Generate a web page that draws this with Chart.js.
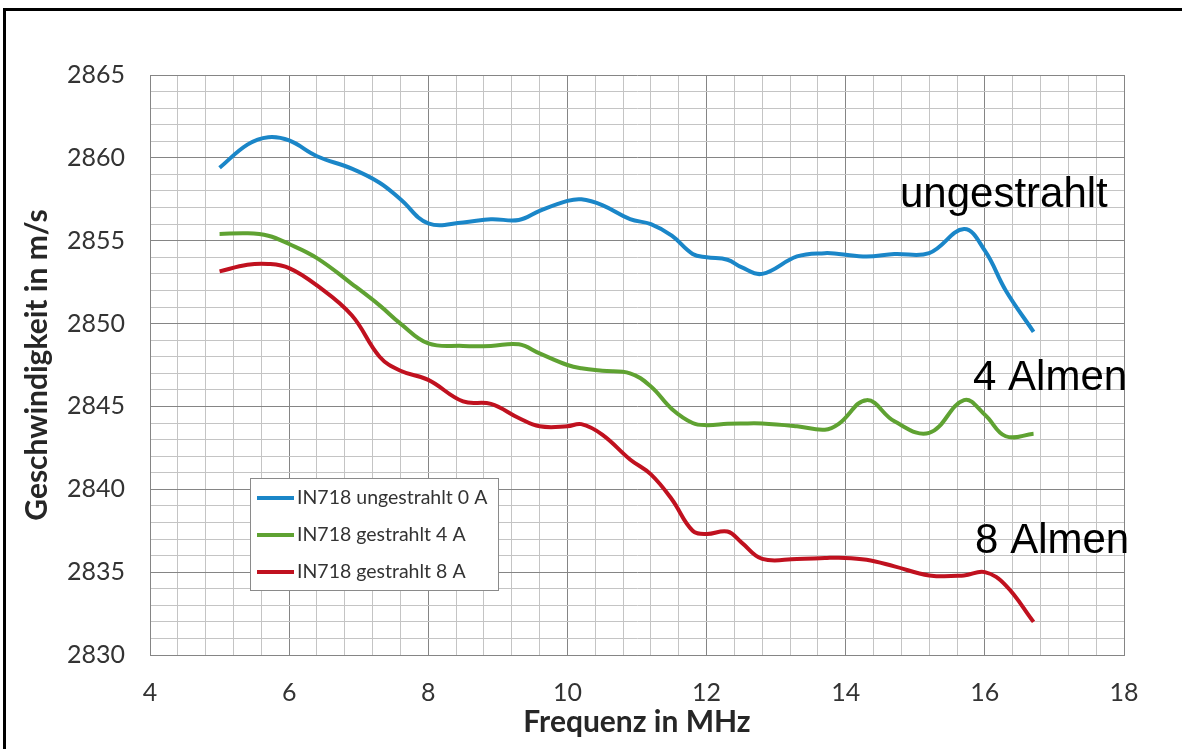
<!DOCTYPE html>
<html lang="de">
<head>
    <meta charset="UTF-8">
    <title>Geschwindigkeit über Frequenz</title>
    <script src="https://cdn.jsdelivr.net/npm/chart.js"></script>
    <style>
        html, body {
            margin: 0;
            padding: 0;
            background: #ffffff;
            overflow: hidden;
        }
        #wrap {
            position: relative;
            width: 1182px;
            height: 749px;
        }
        #frame {
            position: absolute;
            left: 3px;
            top: 8px;
            width: 1300px;
            height: 900px;
            border-top: 3px solid #000;
            border-left: 3px solid #000;
            pointer-events: none;
        }
    </style>
</head>
<body>
<div id="wrap">
    <canvas id="chart" width="1182" height="749"></canvas>
    <div id="frame"></div>
</div>
<script>
// Frequenz in MHz
var freq = [5.0, 5.4, 5.7, 6.0, 6.4, 6.9, 7.3, 7.6, 8.0, 8.5, 8.9, 9.3, 9.6, 10.0, 10.2, 10.5,
            10.9, 11.2, 11.5, 11.8, 12.0, 12.3, 12.5, 12.8, 13.3, 13.7, 13.9, 14.3, 14.7, 15.2,
            15.7, 16.0, 16.3, 16.7];

// Geschwindigkeit in m/s
var ungestrahlt = [2859.4, 2860.8, 2861.25, 2861.05, 2860.1, 2859.35, 2858.5, 2857.5, 2856.05, 2856.1,
                   2856.3, 2856.25, 2856.8, 2857.4, 2857.5, 2857.15, 2856.3, 2856.0, 2855.3, 2854.2,
                   2854.0, 2853.85, 2853.4, 2853.0, 2854.05, 2854.25, 2854.2, 2854.05, 2854.2, 2854.25,
                   2855.7, 2854.4, 2852.0, 2849.5];
var gestrahlt4 = [2855.4, 2855.45, 2855.3, 2854.8, 2853.95, 2852.4, 2851.1, 2850.0, 2848.8, 2848.65,
                  2848.65, 2848.75, 2848.2, 2847.5, 2847.3, 2847.15, 2847.0, 2846.2, 2844.85, 2844.0,
                  2843.87, 2843.95, 2843.97, 2843.97, 2843.8, 2843.6, 2843.95, 2845.38, 2844.1, 2843.4,
                  2845.38, 2844.5, 2843.2, 2843.35];
var gestrahlt8 = [2853.15, 2853.55, 2853.6, 2853.35, 2852.3, 2850.5, 2848.0, 2847.15, 2846.6, 2845.3,
                  2845.15, 2844.3, 2843.8, 2843.8, 2843.93, 2843.3, 2841.8, 2840.9, 2839.4, 2837.5,
                  2837.3, 2837.45, 2836.8, 2835.8, 2835.8, 2835.85, 2835.87, 2835.75, 2835.35, 2834.8,
                  2834.8, 2835.0, 2834.2, 2832.0];

var seriesNames = ['IN718 ungestrahlt 0 A', 'IN718 gestrahlt 4 A', 'IN718 gestrahlt 8 A'];
var seriesColors = ['#1a86c8', '#5fa232', '#c0111f'];

// Beschriftungen im Diagramm (in Datenkoordinaten)
var notes = [
    { text: 'ungestrahlt', x: 14.78, y: 2857.03 },
    { text: '4 Almen', x: 15.83, y: 2846.0 },
    { text: '8 Almen', x: 15.86, y: 2836.15 }
];

function pts(ys) {
    return ys.map(function (v, i) { return { x: freq[i], y: v }; });
}

var tickFont = { family: 'Lato', size: 25 };
var titleFont = { family: 'Lato', size: 30, weight: 'bold' };

var notesPlugin = {
    id: 'notes',
    afterDatasetsDraw: function (chart) {
        var ctx = chart.ctx;
        var xs = chart.scales.x, ys = chart.scales.y;
        ctx.save();
        ctx.fillStyle = '#000';
        ctx.font = '42px "Liberation Sans", Arial, sans-serif';
        ctx.textBaseline = 'alphabetic';
        ctx.textAlign = 'left';
        notes.forEach(function (n) {
            ctx.fillText(n.text, xs.getPixelForValue(n.x), ys.getPixelForValue(n.y));
        });
        ctx.restore();
    }
};

var boxLegend = {
    id: 'boxLegend',
    afterDraw: function (chart) {
        var ctx = chart.ctx;
        var a = chart.chartArea;
        var left = a.left + 100, top = a.top + 403, w = 248, h = 112;
        ctx.save();
        ctx.fillStyle = '#fff';
        ctx.fillRect(left, top, w, h);
        ctx.strokeStyle = '#8a8a8a';
        ctx.lineWidth = 1;
        ctx.strokeRect(left + 0.5, top + 0.5, w, h);
        ctx.font = '19.5px Lato';
        ctx.textBaseline = 'middle';
        ctx.textAlign = 'left';
        chart.data.datasets.forEach(function (ds, i) {
            var y = top + 20 + i * 37;
            ctx.strokeStyle = ds.borderColor;
            ctx.lineWidth = 4;
            ctx.beginPath();
            ctx.moveTo(left + 7, y);
            ctx.lineTo(left + 44, y);
            ctx.stroke();
            ctx.fillStyle = '#333';
            ctx.fillText(ds.label, left + 47, y);
        });
        ctx.restore();
    }
};

function isMajor(v, step) {
    return Math.abs(v / step - Math.round(v / step)) < 1e-6;
}

new Chart(document.getElementById('chart'), {
    type: 'line',
    data: {
        datasets: [
            { label: seriesNames[0], data: pts(ungestrahlt), borderColor: seriesColors[0] },
            { label: seriesNames[1], data: pts(gestrahlt4), borderColor: seriesColors[1] },
            { label: seriesNames[2], data: pts(gestrahlt8), borderColor: seriesColors[2] }
        ]
    },
    options: {
        responsive: false,
        animation: false,
        layout: { padding: { left: 0, top: 75, right: 58, bottom: 0 } },
        elements: {
            line: { borderWidth: 4, tension: 0.4, fill: false },
            point: { radius: 0 }
        },
        plugins: {
            legend: { display: false },
            tooltip: { enabled: false }
        },
        scales: {
            x: {
                type: 'linear',
                min: 4,
                max: 18,
                afterFit: function (s) { s.height = 94; },
                ticks: {
                    stepSize: 0.4,
                    autoSkip: false,
                    maxRotation: 0,
                    padding: 23,
                    color: '#333',
                    font: tickFont,
                    callback: function (v) { return isMajor(v, 2) ? String(Math.round(v)) : ''; }
                },
                grid: {
                    drawTicks: false,
                    color: function (c) { return isMajor(c.tick.value, 2) ? '#858585' : '#c4c4c4'; }
                },
                border: { color: '#858585' },
                title: {
                    display: true,
                    text: 'Frequenz in MHz',
                    color: '#262626',
                    font: titleFont,
                    padding: { top: 0, bottom: 9 }
                }
            },
            y: {
                min: 2830,
                max: 2865,
                afterFit: function (s) { s.width = 150; },
                ticks: {
                    stepSize: 1,
                    autoSkip: false,
                    padding: 25,
                    color: '#333',
                    font: tickFont,
                    callback: function (v) { return isMajor(v, 5) ? String(Math.round(v)) : ''; }
                },
                grid: {
                    drawTicks: false,
                    color: function (c) { return isMajor(c.tick.value, 5) ? '#858585' : '#c4c4c4'; }
                },
                border: { color: '#858585' },
                title: {
                    display: true,
                    text: 'Geschwindigkeit in m/s',
                    color: '#262626',
                    font: titleFont,
                    padding: { top: 19, bottom: 0 }
                }
            }
        }
    },
    plugins: [notesPlugin, boxLegend]
});
</script>
</body>
</html>
